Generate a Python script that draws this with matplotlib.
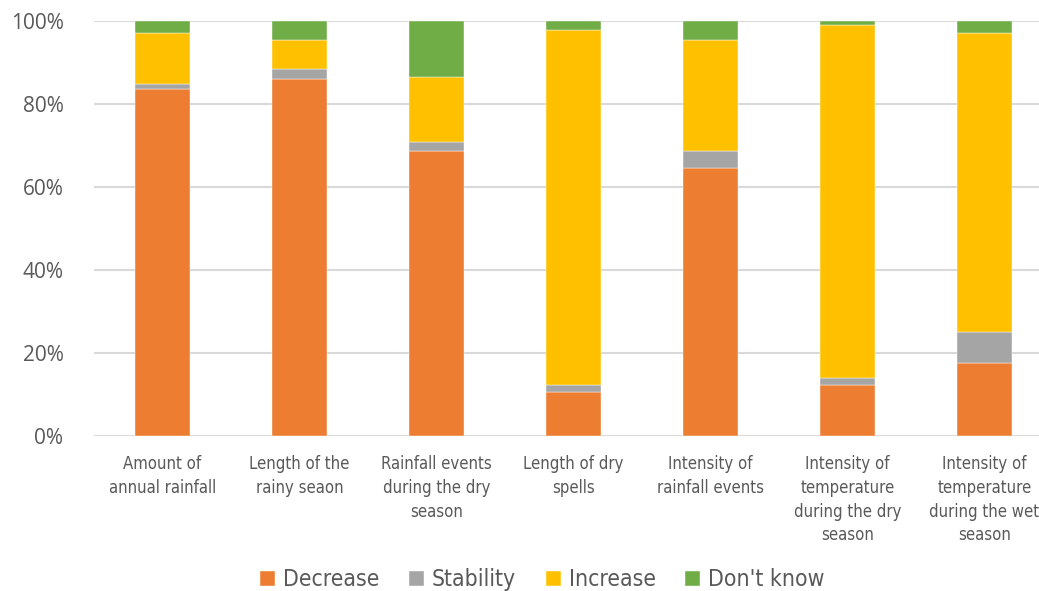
import matplotlib
matplotlib.use("Agg")
import matplotlib.pyplot as plt
import numpy as np
from matplotlib.ticker import PercentFormatter
from matplotlib import font_manager

categories = [
    "Amount of\nannual rainfall",
    "Length of the\nrainy seaon",
    "Rainfall events\nduring the dry\nseason",
    "Length of dry\nspells",
    "Intensity of\nrainfall events",
    "Intensity of\ntemperature\nduring the dry\nseason",
    "Intensity of\ntemperature\nduring the wet\nseason",
]

decrease = [83.7, 86.0, 68.8, 10.7, 64.7, 12.4, 17.5]
stability = [1.2, 2.6, 2.0, 1.7, 4.0, 1.6, 7.5]
increase = [12.4, 6.9, 15.8, 85.4, 26.8, 85.0, 72.2]
dont_know = [2.7, 4.5, 13.4, 2.2, 4.5, 1.0, 2.8]

series = [
    ("Decrease", decrease, "#ED7D31"),
    ("Stability", stability, "#A5A5A5"),
    ("Increase", increase, "#FFC000"),
    ("Don't know", dont_know, "#70AD47"),
]

# prefer a condensed face for the category and legend text
names = {f.name for f in font_manager.fontManager.ttflist}
if "Liberation Sans Narrow" in names:
    narrow = font_manager.FontProperties(family="Liberation Sans Narrow")
elif "DejaVu Sans Condensed" in names:
    narrow = font_manager.FontProperties(family="DejaVu Sans Condensed")
else:
    narrow = font_manager.FontProperties(family="DejaVu Sans", stretch="condensed")
text_color = "#595959"

fig = plt.figure(figsize=(10.39, 5.91), dpi=100)
ax = fig.add_axes([0.0905, 0.2623, 0.923, 0.7016])

x = np.arange(len(categories))
bottom = np.zeros(len(categories))
for name, vals, color in series:
    vals = np.array(vals)
    ax.bar(x, vals, width=0.4, bottom=bottom, color=color, label=name,
           edgecolor="white", linewidth=0.3, zorder=3)
    bottom += vals

ax.set_xlim(-0.5, len(categories) - 0.5)
ax.set_ylim(0, 100)
ax.set_yticks(np.arange(0, 101, 20))
ax.yaxis.set_major_formatter(PercentFormatter(decimals=0))
ax.grid(axis="y", color="#D9D9D9", linewidth=1.5, zorder=0)
for s in ax.spines.values():
    s.set_visible(False)
ax.tick_params(axis="both", length=0)
ax.tick_params(axis="y", labelsize=15, labelcolor=text_color, pad=22)
for lab in ax.get_yticklabels():
    lab.set_family(["Open Sans", "DejaVu Sans"])

ax.set_xticks(x)
ax.set_xticklabels(categories, color=text_color, linespacing=1.4)
for lab in ax.get_xticklabels():
    lab.set_fontproperties(narrow)
    lab.set_fontsize(12)
ax.tick_params(axis="x", pad=14)

legend_prop = narrow.copy()
legend_prop.set_size(16.5)
fig.legend(loc="center", bbox_to_anchor=(0.522, 0.019), ncol=4,
           frameon=False, prop=legend_prop,
           handlelength=0.65, handleheight=0.65, handletextpad=0.35,
           columnspacing=1.3, labelcolor=text_color)

fig.savefig("out.png", dpi=100)
